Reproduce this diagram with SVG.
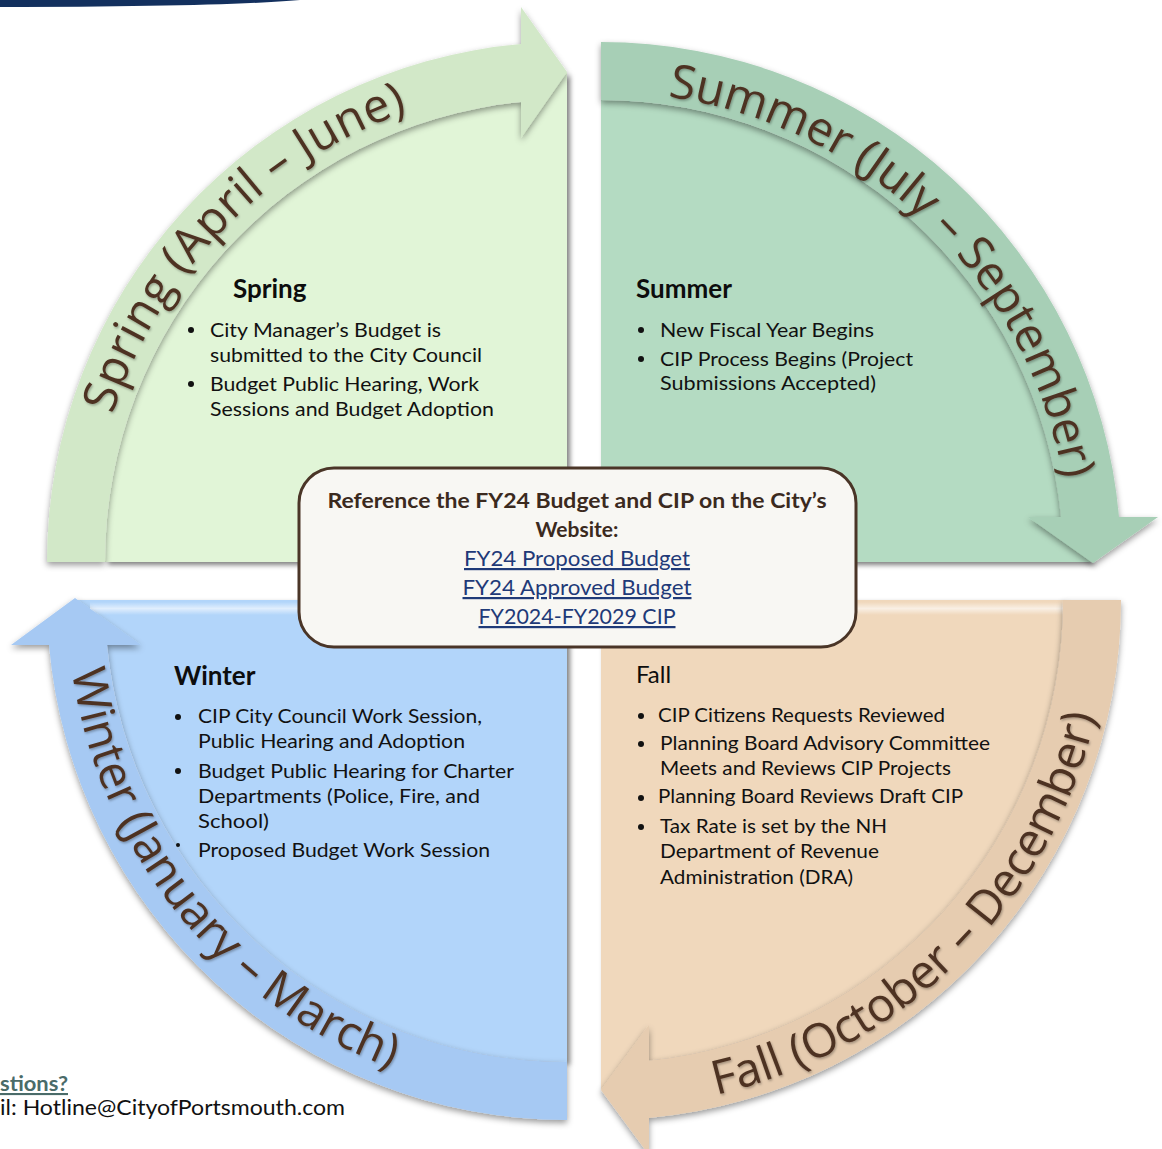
<svg xmlns="http://www.w3.org/2000/svg" width="1162" height="1149" viewBox="0 0 1162 1149">
<style>
  .body { font-family: Lato, "Open Sans", sans-serif; font-size: 19px; fill: #111111; }
  .fall { font-family: Lato, "Open Sans", sans-serif; font-size: 20px; fill: #111111; }
  .head { font-family: Lato, "Open Sans", sans-serif; font-size: 26px; font-weight: 700; fill: #0d0d0d; }
  .arc { font-family: "Open Sans", "DejaVu Sans", sans-serif; font-size: 47px; fill: #4e3323; }
  .ref { font-family: Lato, "Open Sans", sans-serif; font-size: 21px; font-weight: 700; fill: #3b2a1e; text-anchor: middle; }
  .link { font-family: Lato, "Open Sans", sans-serif; font-size: 22px; fill: #1f3a78; text-anchor: middle; text-decoration: underline; }
  .dot { fill: #111111; }
</style>
<defs>
  <filter id="pieShadow" x="-10%" y="-10%" width="120%" height="120%">
    <feDropShadow dx="3" dy="3" stdDeviation="2.5" flood-color="#000" flood-opacity="0.5"/>
  </filter>
  <filter id="bandShadow" x="-10%" y="-10%" width="120%" height="120%">
    <feDropShadow dx="0" dy="3" stdDeviation="3" flood-color="#000" flood-opacity="0.4"/>
  </filter>
  <filter id="textShadow" x="-5%" y="-5%" width="110%" height="110%">
    <feDropShadow dx="1" dy="1.5" stdDeviation="1" flood-color="#000" flood-opacity="0.3"/>
  </filter>
  <linearGradient id="hl" x1="0" y1="0" x2="0" y2="1">
    <stop offset="0" stop-color="#ffffff" stop-opacity="0"/>
    <stop offset="0.5" stop-color="#ffffff" stop-opacity="0.6"/>
    <stop offset="1" stop-color="#ffffff" stop-opacity="0"/>
  </linearGradient>
  <path id="pSpring" d="M 89,562 A 478 478 0 0 1 567,84"/>
  <path id="pSummer" d="M 601,92 A 470 470 0 0 1 1071,562"/>
  <path id="pWinter" d="M 67,600 A 500 500 0 0 0 567,1100"/>
  <path id="pFall" d="M 601,1108 A 508 508 0 0 0 1109,600"/>
</defs>

<rect x="0" y="0" width="1162" height="1149" fill="#ffffff"/>
<path d="M 0,0 L 300,0 Q 220,7 0,7 Z" fill="#13305e"/>

<g id="spring">
  <path d="M 567,562 L 105,562 A 462 462 0 0 1 521,102 L 567,72 Z" fill="#e1f5d7" filter="url(#pieShadow)"/>
  <path d="M 47,562 A 520 520 0 0 1 521,44 L 521,7 L 567,72 L 521,138 L 521,102 A 462 462 0 0 0 105,562 Z" fill="#d2e8c8" filter="url(#bandShadow)"/>
  <text class="arc" filter="url(#textShadow)"><textPath href="#pSpring" startOffset="150" textLength="438">Spring (April – June)</textPath></text>
  <text class="head" x="233" y="298">Spring</text>
  <circle class="dot" cx="191" cy="330" r="3"/>
  <circle class="dot" cx="191" cy="384" r="3"/>
  <text class="body" x="210" y="337" textLength="231" lengthAdjust="spacingAndGlyphs">City Manager’s Budget is</text>
  <text class="body" x="210" y="362" textLength="272" lengthAdjust="spacingAndGlyphs">submitted to the City Council</text>
  <text class="body" x="210" y="391" textLength="269" lengthAdjust="spacingAndGlyphs">Budget Public Hearing, Work</text>
  <text class="body" x="210" y="416" textLength="284" lengthAdjust="spacingAndGlyphs">Sessions and Budget Adoption</text>
</g>

<g id="summer">
  <path d="M 601,562 L 601,100 A 462 462 0 0 1 1061,517 L 1092,562 Z" fill="#b4dbc2" filter="url(#pieShadow)"/>
  <path d="M 601,42 A 520 520 0 0 1 1119,517 L 1158,517 L 1093,563 L 1028,517 L 1061,517 A 462 462 0 0 0 601,100 Z" fill="#a7cfb6" filter="url(#bandShadow)"/>
  <text class="arc" filter="url(#textShadow)"><textPath href="#pSummer" startOffset="67" textLength="588">Summer (July – September)</textPath></text>
  <text class="head" x="636" y="298">Summer</text>
  <circle class="dot" cx="641" cy="330" r="3"/>
  <circle class="dot" cx="641" cy="359" r="3"/>
  <text class="body" x="660" y="337" textLength="214" lengthAdjust="spacingAndGlyphs">New Fiscal Year Begins</text>
  <text class="body" x="660" y="366" textLength="253" lengthAdjust="spacingAndGlyphs">CIP Process Begins (Project</text>
  <text class="body" x="660" y="390" textLength="216" lengthAdjust="spacingAndGlyphs">Submissions Accepted)</text>
</g>

<g id="winter">
  <path d="M 567,600 L 567,1062 A 462 462 0 0 1 107,645 L 75,600 Z" fill="#b2d5fa" filter="url(#pieShadow)"/>
  <rect x="90" y="602" width="477" height="13" fill="url(#hl)"/>
  <path d="M 567,1120 A 520 520 0 0 1 49,645 L 11,645 L 75,598 L 141,645 L 107,645 A 462 462 0 0 0 567,1062 Z" fill="#a6c9f3" filter="url(#bandShadow)"/>
  <text class="arc" filter="url(#textShadow)"><textPath href="#pWinter" startOffset="71" textLength="535">Winter (January – March)</textPath></text>
  <text class="head" x="174" y="685">Winter</text>
  <circle class="dot" cx="178" cy="717" r="3"/>
  <circle class="dot" cx="178" cy="771" r="3"/>
  <circle class="dot" cx="178" cy="845" r="2"/>
  <text class="body" x="198" y="723" textLength="284" lengthAdjust="spacingAndGlyphs">CIP City Council Work Session,</text>
  <text class="body" x="198" y="748" textLength="267" lengthAdjust="spacingAndGlyphs">Public Hearing and Adoption</text>
  <text class="body" x="198" y="778" textLength="316" lengthAdjust="spacingAndGlyphs">Budget Public Hearing for Charter</text>
  <text class="body" x="198" y="803" textLength="282" lengthAdjust="spacingAndGlyphs">Departments (Police, Fire, and</text>
  <text class="body" x="198" y="828" textLength="71" lengthAdjust="spacingAndGlyphs">School)</text>
  <text class="body" x="198" y="857" textLength="292" lengthAdjust="spacingAndGlyphs">Proposed Budget Work Session</text>
</g>

<g id="fall">
  <path d="M 601,600 L 1063,600 A 462 462 0 0 1 649,1060.5 L 601,1090 Z" fill="#f0d8bc" filter="url(#pieShadow)"/>
  <rect x="601" y="602" width="462" height="13" fill="url(#hl)"/>
  <path d="M 1121,600 A 520 520 0 0 1 649,1118 L 649,1155 L 601,1090 L 649,1025 L 649,1060.5 A 462 462 0 0 0 1063,600 Z" fill="#e6ccb0" filter="url(#bandShadow)"/>
  <text class="arc" filter="url(#textShadow)"><textPath href="#pFall" startOffset="116" textLength="565">Fall (October – December)</textPath></text>
  <text x="636" y="683" style="font-family: Lato, 'Open Sans', sans-serif; font-size: 24px; fill: #0d0d0d;">Fall</text>
  <circle class="dot" cx="641" cy="716" r="3"/>
  <circle class="dot" cx="641" cy="744" r="3"/>
  <circle class="dot" cx="641" cy="798" r="3"/>
  <circle class="dot" cx="641" cy="827" r="3"/>
  <text class="fall" x="658" y="722" textLength="287" lengthAdjust="spacingAndGlyphs">CIP Citizens Requests Reviewed</text>
  <text class="fall" x="660" y="750" textLength="330" lengthAdjust="spacingAndGlyphs">Planning Board Advisory Committee</text>
  <text class="fall" x="660" y="775" textLength="291" lengthAdjust="spacingAndGlyphs">Meets and Reviews CIP Projects</text>
  <text class="fall" x="658" y="803" textLength="305" lengthAdjust="spacingAndGlyphs">Planning Board Reviews Draft CIP</text>
  <text class="fall" x="660" y="833" textLength="227" lengthAdjust="spacingAndGlyphs">Tax Rate is set by the NH</text>
  <text class="fall" x="660" y="858" textLength="219" lengthAdjust="spacingAndGlyphs">Department of Revenue</text>
  <text class="fall" x="660" y="884" textLength="193" lengthAdjust="spacingAndGlyphs">Administration (DRA)</text>
</g>

<g id="reference-box">
  <rect x="299" y="468" width="557" height="179" rx="35" ry="35" fill="#f8f7f3" stroke="#4a3527" stroke-width="3"/>
  <text class="ref" x="577" y="508" textLength="499" lengthAdjust="spacingAndGlyphs">Reference the FY24 Budget and CIP on the City’s</text>
  <text class="ref" x="577" y="537">Website:</text>
  <text class="link" x="577" y="566" textLength="226" lengthAdjust="spacingAndGlyphs">FY24 Proposed Budget</text>
  <text class="link" x="577" y="595" textLength="229" lengthAdjust="spacingAndGlyphs">FY24 Approved Budget</text>
  <text class="link" x="577" y="624" textLength="197" lengthAdjust="spacingAndGlyphs">FY2024-FY2029 CIP</text>
</g>

<g id="contact">
  <text x="0" y="1091" textLength="68" lengthAdjust="spacingAndGlyphs" style="font-family: Lato, 'Open Sans', sans-serif; font-size: 21px; font-weight: 700; fill: #4a6b69; text-decoration: underline;">stions?</text>
  <text x="0" y="1115" textLength="345" lengthAdjust="spacingAndGlyphs" style="font-family: Lato, 'Open Sans', sans-serif; font-size: 21px; fill: #111111;">il: Hotline@CityofPortsmouth.com</text>
</g>

<g id="connectors"></g>
</svg>
